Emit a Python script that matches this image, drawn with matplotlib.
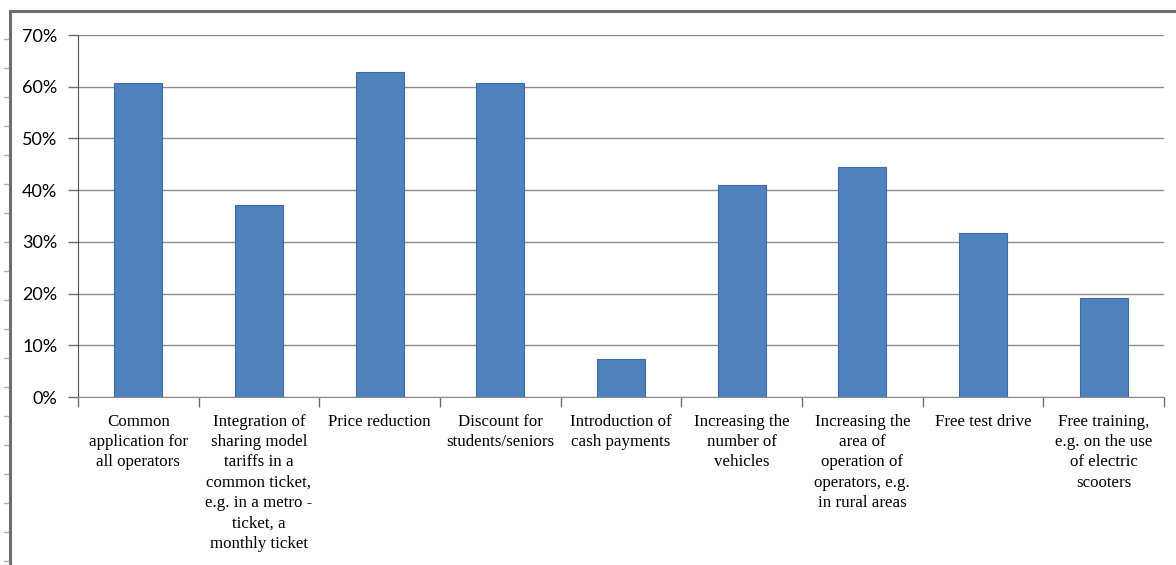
import matplotlib.pyplot as plt
from matplotlib.lines import Line2D
from matplotlib.ticker import FuncFormatter, FixedLocator

categories = [
    "Common\napplication for\nall operators",
    "Integration of\nsharing model\ntariffs in a\ncommon ticket,\ne.g. in a metro -\nticket, a\nmonthly ticket",
    "Price reduction",
    "Discount for\nstudents/seniors",
    "Introduction of\ncash payments",
    "Increasing the\nnumber of\nvehicles",
    "Increasing the\narea of\noperation of\noperators, e.g.\nin rural areas",
    "Free test drive",
    "Free training,\ne.g. on the use\nof electric\nscooters",
]
shares = [0.607, 0.371, 0.628, 0.607, 0.073, 0.409, 0.445, 0.317, 0.191]
y_ticks = [0.0, 0.1, 0.2, 0.3, 0.4, 0.5, 0.6, 0.7]

W, H = 1176, 565
fig = plt.figure(figsize=(W / 100, H / 100), dpi=100)
fig.patch.set_facecolor("white")

# outer chart frame (left and top edges) plus the faint ruler marks
fig.add_artist(Line2D([10 / W, 10 / W], [0, 1 - 11 / H], color="#6e6e6e", lw=2.2))
fig.add_artist(Line2D([10 / W, 1], [1 - 11 / H, 1 - 11 / H], color="#6e6e6e", lw=2.2))
for py in range(39, H, 29):
    fig.add_artist(Line2D([4 / W, 8 / W], [1 - py / H, 1 - py / H],
                          color="#9fb4d6", lw=1))

ax = fig.add_axes([78 / W, (H - 397) / H, (1164 - 78) / W, (397 - 35) / H])
x = range(len(categories))
ax.bar(x, shares, width=0.4, color="#4f81bd", edgecolor="#3d6ba3", linewidth=0.8, zorder=3)

ax.set_xlim(-0.5, len(categories) - 0.5)
ax.set_ylim(0, 0.7)
ax.yaxis.set_major_locator(FixedLocator(y_ticks))
ax.yaxis.set_major_formatter(FuncFormatter(lambda v, _: f"{v:.0%}"))
ax.grid(axis="y", color="#8c8c8c", lw=1, zorder=0)

ax.set_xticks(list(x))
ax.set_xticklabels(categories, fontfamily="Liberation Serif", fontsize=12.2,
                   linespacing=1.36, va="top", ha="center")
ax.set_xticks([i - 0.5 for i in range(len(categories) + 1)], minor=True)
ax.tick_params(axis="x", which="major", length=0, pad=12)
ax.tick_params(axis="x", which="minor", length=7, color="#6e6e6e", width=1)
ax.tick_params(axis="y", length=7, color="#6e6e6e", width=1, pad=8)
for lbl in ax.get_yticklabels():
    lbl.set_fontfamily("Lato")
    lbl.set_fontsize(13)

for side in ["top", "right"]:
    ax.spines[side].set_visible(False)
ax.spines["left"].set_color("#555555")
ax.spines["bottom"].set_color("#8c8c8c")

fig.savefig("out.png", dpi=100, facecolor="white")
